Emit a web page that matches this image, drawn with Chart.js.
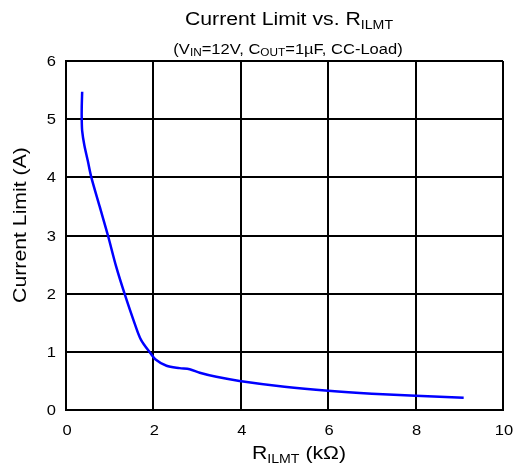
<!DOCTYPE html>
<html>
<head>
<meta charset="utf-8">
<script src="https://cdn.jsdelivr.net/npm/chart.js@4"></script>
<style>
  html, body { margin: 0; padding: 0; background: #fff; }
  #wrap { width: 519px; height: 470px; }
</style>
</head>
<body>
<div id="wrap"><canvas id="limitChart" width="519" height="470"></canvas></div>
<script>
// --- DATA ---
// R_ILMT in kOhm and the measured current limit in A
const rIlmt = [0.37, 0.36, 0.36, 0.37, 0.42, 0.50, 0.58, 0.77, 0.96, 1.15, 1.34, 1.57, 1.72, 1.93, 2.05, 2.30, 2.60, 2.83, 3.06, 3.44, 3.97, 5.0, 6.0, 7.0, 8.0, 9.1];
const currentLimit = [5.47, 5.20, 5.00, 4.80, 4.55, 4.28, 4.00, 3.50, 3.00, 2.46, 2.00, 1.49, 1.20, 0.98, 0.87, 0.76, 0.72, 0.70, 0.64, 0.57, 0.50, 0.40, 0.33, 0.28, 0.245, 0.21];

const xTicks = [0, 2, 4, 6, 8, 10];
const yTicks = [0, 1, 2, 3, 4, 5, 6];

const FONT = "Liberation Sans, Arial, sans-serif";
const STRETCH = 1.18;   // text is drawn a little wide

// width of a run of normal/subscript pieces, after stretching
function measureRich(ctx, parts, size) {
    const subSize = Math.round(size * 0.68);
    let total = 0;
    parts.forEach(p => {
        ctx.font = (p.sub ? subSize : size) + "px " + FONT;
        p.w = ctx.measureText(p.t).width;
        total += p.w;
    });
    return total * STRETCH;
}

// draws the pieces starting at x (left edge) on the given baseline
function drawRich(ctx, parts, size, x, baseline) {
    const subSize = Math.round(size * 0.68);
    measureRich(ctx, parts, size);
    ctx.save();
    ctx.translate(x, baseline);
    ctx.scale(STRETCH, 1);
    ctx.textAlign = "left";
    ctx.textBaseline = "alphabetic";
    let cx = 0;
    parts.forEach(p => {
        ctx.font = (p.sub ? subSize : size) + "px " + FONT;
        ctx.fillText(p.t, cx, p.sub ? size * 0.2 : 0);
        cx += p.w;
    });
    ctx.restore();
}

function drawCentered(ctx, parts, size, cx, baseline) {
    const w = measureRich(ctx, parts, size);
    drawRich(ctx, parts, size, cx - w / 2, baseline);
}

// titles, axis labels and tick labels (drawn by hand for the subscripts)
const labelPlugin = {
    id: "labels",
    afterDraw(chart) {
        const ctx = chart.ctx;
        const xs = chart.scales.x;
        const ys = chart.scales.y;
        ctx.save();
        ctx.fillStyle = "#000";

        drawCentered(ctx, [{t: "Current Limit vs. R"}, {t: "ILMT", sub: true}], 18, 289, 25);
        drawCentered(ctx, [
            {t: "(V"}, {t: "IN", sub: true}, {t: "=12V, C"}, {t: "OUT", sub: true}, {t: "=1\u00b5F, CC-Load)"}
        ], 14, 288, 53.5);

        // tick labels
        xTicks.forEach(v => {
            drawCentered(ctx, [{t: String(v)}], 14, xs.getPixelForValue(v) + 1, 435);
        });
        yTicks.forEach(v => {
            const parts = [{t: String(v)}];
            const w = measureRich(ctx, parts, 14);
            drawRich(ctx, parts, 14, 56 - w, ys.getPixelForValue(v) + 5);
        });

        // axis titles
        drawCentered(ctx, [{t: "R"}, {t: "ILMT", sub: true}, {t: " (k\u03a9)"}], 18, 299, 459);

        ctx.translate(26, 225);
        ctx.rotate(-Math.PI / 2);
        drawCentered(ctx, [{t: "Current Limit (A)"}], 18, 0, 0);
        ctx.restore();
    }
};

const ctx = document.getElementById("limitChart").getContext("2d");

new Chart(ctx, {
    type: "scatter",
    data: {
        datasets: [{
            data: rIlmt.map((r, i) => ({ x: r, y: currentLimit[i] })),
            showLine: true,
            borderColor: "#0000ff",
            borderWidth: 2.5,
            pointRadius: 0,
            tension: 0.3,
            fill: false
        }]
    },
    options: {
        responsive: false,
        animation: false,
        layout: { padding: { left: 0, top: 61, right: 16, bottom: 0 } },
        plugins: {
            legend: { display: false },
            tooltip: { enabled: false }
        },
        scales: {
            x: {
                type: "linear",
                min: 0,
                max: 10,
                afterBuildTicks(scale) { scale.ticks = xTicks.map(v => ({ value: v })); },
                afterFit(scale) { scale.height = 60; },
                ticks: { display: false },
                grid: { color: "#000", lineWidth: 2, drawTicks: false },
                border: { color: "#000", width: 2 }
            },
            y: {
                type: "linear",
                min: 0,
                max: 6,
                afterBuildTicks(scale) { scale.ticks = yTicks.map(v => ({ value: v })); },
                afterFit(scale) { scale.width = 66; },
                ticks: { display: false },
                grid: { color: "#000", lineWidth: 2, drawTicks: false },
                border: { color: "#000", width: 2 }
            }
        }
    },
    plugins: [labelPlugin]
});
</script>
</body>
</html>
